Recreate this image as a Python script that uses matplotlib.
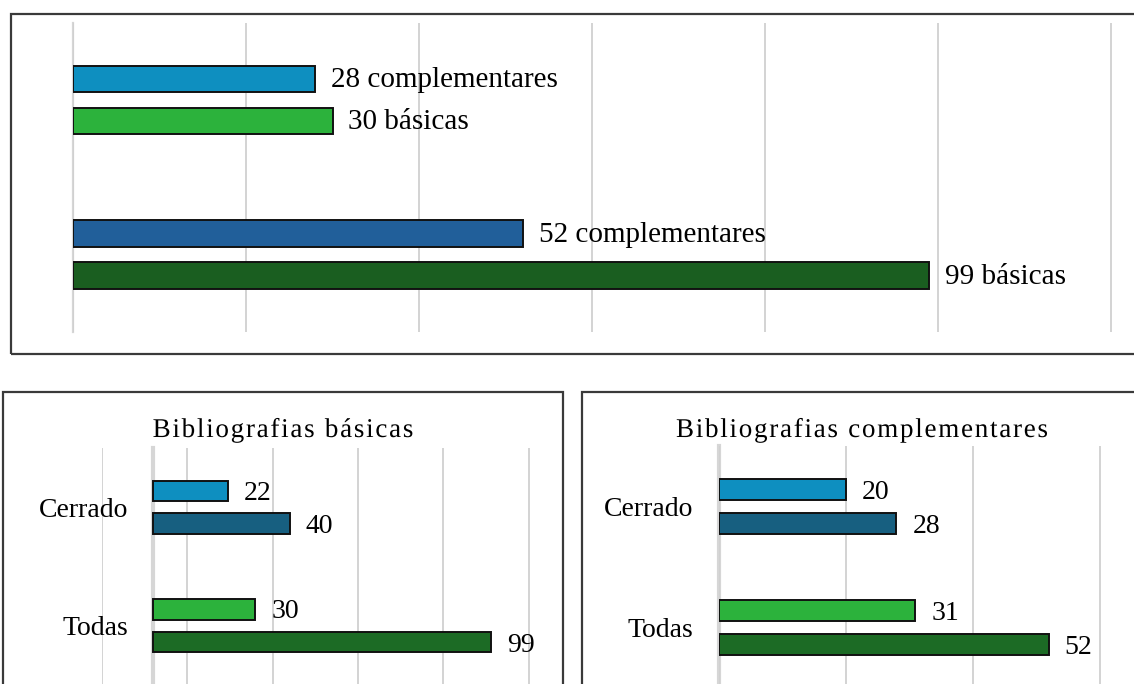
import matplotlib
matplotlib.use("Agg")
import matplotlib.pyplot as plt
from matplotlib.patches import Rectangle, PathPatch
from matplotlib.textpath import TextPath
from matplotlib.font_manager import FontProperties, findfont
from matplotlib.ft2font import FT2Font
from matplotlib.transforms import Affine2D, IdentityTransform
import numpy as np

plt.rcParams['font.family'] = ['Liberation Serif', 'DejaVu Serif']

# top panel: two groups, each with complementares (upper) and básicas (lower)
top_compl = [28, 52]
top_basic = [30, 99]
top_compl_colors = ['#0E8FC0', '#215F9A']
top_basic_colors = ['#2CB23C', '#1A5E20']

# bottom panels
categories = ['Cerrado', 'Todas']
basicas_upper = [22, 30]
basicas_lower = [40, 99]
compl_upper = [20, 31]
compl_lower = [28, 52]
upper_colors = ['#0E8FC0', '#2CB23C']
lower_colors = ['#175F80', '#1C6B25']

W, H = 1134, 684
fig = plt.figure(figsize=(W / 100, H / 100), dpi=100)


def px_axes(left, top, right, bottom):
    return fig.add_axes([left / W, 1 - bottom / H, (right - left) / W, (bottom - top) / H])


def frame(left, top, right, bottom):
    fig.patches.append(Rectangle((left / W, 1 - bottom / H), (right - left) / W, (bottom - top) / H,
                                 transform=fig.transFigure, fill=False, edgecolor='#3a3a3a',
                                 linewidth=1.6, clip_on=False))


def tracked_title(xc, baseline, s, size_pt, track):
    # title text with extra letter spacing (pixels), drawn glyph by glyph
    prop = FontProperties(family='Liberation Serif')
    size_px = size_pt * 100 / 72
    ft = FT2Font(findfont(prop))
    ft.set_size(size_px, 72)
    x = 0
    glyphs = []
    for ch in s:
        glyphs.append((x, ch))
        x += ft.load_char(ord(ch)).linearHoriAdvance / 65536 + track
    total = x - track
    x0 = xc - total / 2
    for gx, ch in glyphs:
        if ch == ' ':
            continue
        path = TextPath((gx, 0), ch, size=size_px, prop=prop)
        tr = Affine2D().translate(x0, H - baseline) + IdentityTransform()
        fig.patches.append(PathPatch(path, transform=tr, facecolor='black', edgecolor='none'))


def style(ax, ticks, lim, zero_lw):
    ax.set_xlim(*lim)
    ax.set_ylim(1.5, -0.5)
    ax.set_xticks(ticks)
    ax.set_yticks([])
    ax.tick_params(length=0, labelbottom=False)
    for s in ax.spines.values():
        s.set_visible(False)
    ax.grid(axis='x', color='#D0D0D0', linewidth=1.3)
    ax.set_axisbelow(True)
    ax.axvline(0, color='#D6D6D6', linewidth=zero_lw, zorder=0.5, clip_on=False)
    ax.patch.set_alpha(0)


# frames
frame(11, 14, 1160, 354)
frame(3, 392, 563, 700)
frame(582, 392, 1160, 700)

# ---- top panel ----
ax = px_axes(73, 22.7, 73 + 125 * 8.65, 331.7)
style(ax, np.arange(0, 121, 20), (0, 125), 1.6)
y = np.arange(len(top_compl))
off, h = 0.136, 0.17
ax.barh(y - off, top_compl, height=h, color=top_compl_colors, edgecolor='#111111', linewidth=1.4)
ax.barh(y + off, top_basic, height=h, color=top_basic_colors, edgecolor='#111111', linewidth=1.4)
for i in range(len(y)):
    ax.annotate(f"{top_compl[i]} complementares", (top_compl[i], y[i] - off), xytext=(11.5, -1),
                textcoords='offset points', va='center', ha='left', fontsize=21)
    ax.annotate(f"{top_basic[i]} básicas", (top_basic[i], y[i] + off), xytext=(11.5, -1),
                textcoords='offset points', va='center', ha='left', fontsize=21)


def bottom_panel(ax, upper, lower, ticks, lim):
    style(ax, ticks, lim, 3)
    y = np.arange(len(categories))
    off, h = 0.137, 0.173
    ax.barh(y - off, upper, height=h, color=upper_colors, edgecolor='#111111', linewidth=1.4)
    ax.barh(y + off, lower, height=h, color=lower_colors, edgecolor='#111111', linewidth=1.4)
    for i in range(len(y)):
        ax.annotate(str(upper[i]), (upper[i], y[i] - off), xytext=(11.5, -1.5),
                    textcoords='offset points', va='center', ha='left', fontsize=20)
        ax.annotate(str(lower[i]), (lower[i], y[i] + off), xytext=(11.5, -2.5),
                    textcoords='offset points', va='center', ha='left', fontsize=20)
        ax.annotate(categories[i], (0, y[i]), xytext=(-18, -2), textcoords='offset points',
                    va='center', ha='right', fontsize=20)


ax1 = px_axes(101.8, 448, 101.8 + 130 * 3.414, 685)
bottom_panel(ax1, basicas_upper, basicas_lower, np.arange(-15, 111, 25), (-15, 115))
tracked_title(283, 437, "Bibliografias básicas", 19.5, 1.7)

ax2 = px_axes(718.5, 446, 718.5 + 70 * 6.35, 688)
bottom_panel(ax2, compl_upper, compl_lower, np.arange(0, 61, 20), (0, 70))
tracked_title(862, 437, "Bibliografias complementares", 19.5, 1.7)

fig.savefig("out.png", dpi=100)
